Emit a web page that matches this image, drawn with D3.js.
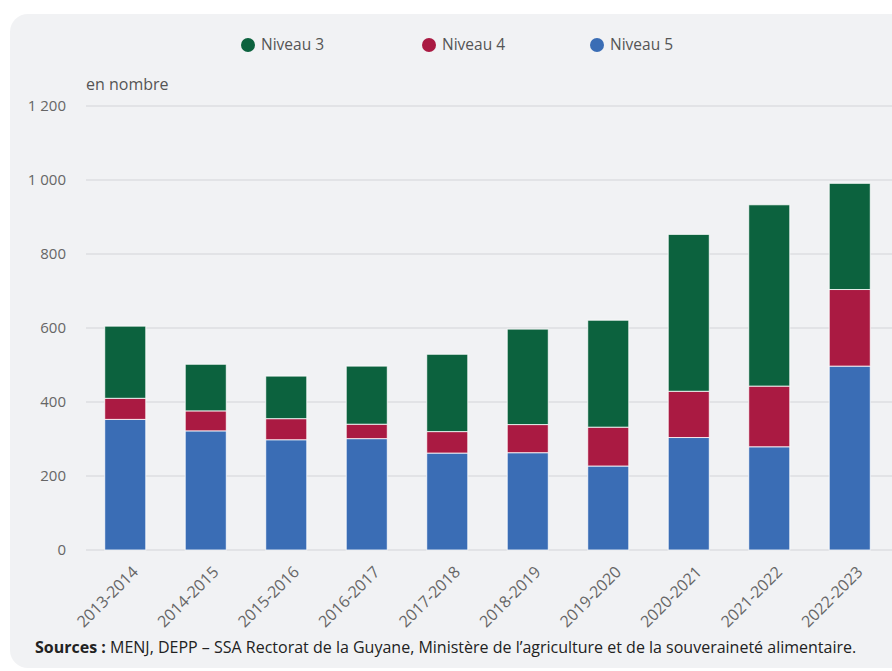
<!DOCTYPE html>
<html><head><meta charset="utf-8">
<script src="https://cdn.jsdelivr.net/npm/d3@7"></script>
<style>
html,body{margin:0;padding:0;background:#fff;}
svg{display:block;font-family:"Open Sans",sans-serif;}
</style></head>
<body>
<svg id="chart" width="892" height="671"></svg>
<script>
const categories = ["2013-2014","2014-2015","2015-2016","2016-2017","2017-2018","2018-2019","2019-2020","2020-2021","2021-2022","2022-2023"];
const niveau5 = [353,322,298,301,262,263,227,304,279,497];
const niveau4 = [57,54,57,39,58,76,105,125,164,207];
const niveau3 = [195,126,115,157,209,258,289,424,490,287];
const seriesNames = ["Niveau 5","Niveau 4","Niveau 3"];
const legendOrder = ["Niveau 3","Niveau 4","Niveau 5"];
const yTicks = [0,200,400,600,800,1000,1200];
const colors = {"Niveau 3":"#0c623e","Niveau 4":"#aa1a42","Niveau 5":"#3a6db5"};

const svg = d3.select("#chart");
svg.append("rect").attr("x",10).attr("y",14).attr("width",900).attr("height",654)
  .attr("rx",18).attr("fill","#f1f2f4");

const x = d3.scaleBand().domain(categories).range([85,890]).paddingInner(0.49).paddingOuter(0.245);
const y = d3.scaleLinear().domain([0,1200]).range([550,106]);

// grid
svg.append("g").selectAll("line").data(yTicks).join("line")
  .attr("x1",86).attr("x2",892).attr("y1",d=>y(d)).attr("y2",d=>y(d))
  .attr("stroke","#d3d4d7").attr("stroke-width",1.2);

// y labels
const fmt = v => d3.format(",")(v).replace(/,/g," ");
svg.append("g").selectAll("text").data(yTicks).join("text")
  .attr("x",66).attr("y",d=>y(d)).attr("dy","0.35em").attr("text-anchor","end")
  .attr("font-size",15).attr("fill","#666").text(fmt);

svg.append("text").attr("x",86).attr("y",90).attr("font-size",16).attr("fill","#555").text("en nombre");

// stacked bars
const table = categories.map((c,i)=>({cat:c,"Niveau 5":niveau5[i],"Niveau 4":niveau4[i],"Niveau 3":niveau3[i]}));
const stack = d3.stack().keys(seriesNames)(table);
svg.append("g").selectAll("g").data(stack).join("g")
  .attr("fill",d=>colors[d.key])
  .selectAll("rect").data(d=>d).join("rect")
  .attr("x",d=>x(d.data.cat)).attr("width",x.bandwidth())
  .attr("y",d=>y(d[1])).attr("height",d=>y(d[0])-y(d[1]))
  .attr("stroke","#ffffff").attr("stroke-width",1).attr("stroke-opacity",0.8);

// x labels
svg.append("g").selectAll("text").data(categories).join("text")
  .attr("transform",d=>`translate(${x(d)+x.bandwidth()/2+10},${569}) rotate(-45)`)
  .attr("text-anchor","end").attr("dy","0.35em")
  .attr("font-size",16).attr("fill","#666").text(d=>d);

// legend
const legX = [248,429,597];
const lg = svg.append("g").selectAll("g").data(legendOrder).join("g")
  .attr("transform",(d,i)=>`translate(${legX[i]},45)`);
lg.append("circle").attr("r",7).attr("fill",d=>colors[d]);
lg.append("text").attr("x",13).attr("dy","0.35em").attr("font-size",15.5).attr("fill","#555").text(d=>d);

// source
const src = svg.append("text").attr("x",35).attr("y",653).attr("font-size",16).attr("fill","#222");
src.append("tspan").attr("font-weight","bold").text("Sources :");
src.append("tspan").text(" MENJ, DEPP – SSA Rectorat de la Guyane, Ministère de l’agriculture et de la souveraineté alimentaire.");
</script>
</body></html>
